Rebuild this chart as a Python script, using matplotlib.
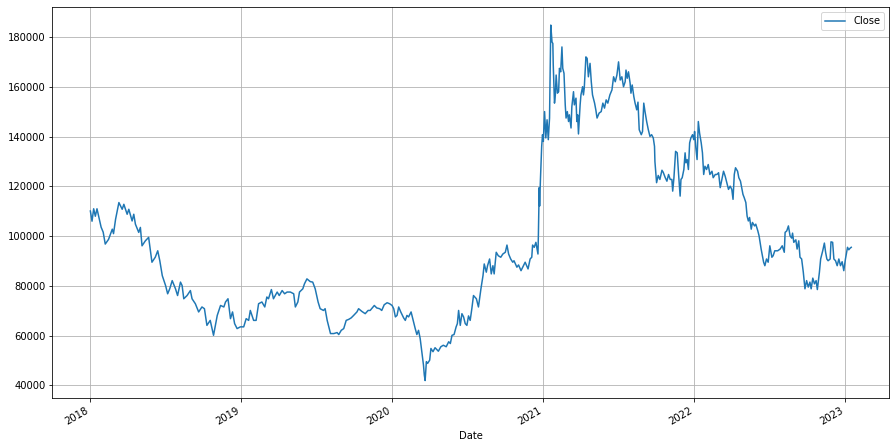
import matplotlib
matplotlib.use("Agg")
import matplotlib.pyplot as plt
import matplotlib.dates as mdates
import matplotlib.ticker as mticker
import pandas as pd

# Dates and closing prices
dates = [
    "2018-01-02", "2018-01-06", "2018-01-10", "2018-01-14", "2018-01-18", "2018-01-22",
    "2018-01-28", "2018-02-02", "2018-02-07", "2018-02-15", "2018-02-24", "2018-02-27",
    "2018-03-04", "2018-03-12", "2018-03-20", "2018-03-24", "2018-04-01", "2018-04-05",
    "2018-04-13", "2018-04-17", "2018-04-21", "2018-04-29", "2018-05-03", "2018-05-07",
    "2018-05-15", "2018-05-23", "2018-05-31", "2018-06-08", "2018-06-14", "2018-06-19",
    "2018-06-25", "2018-07-03", "2018-07-08", "2018-07-13", "2018-07-19", "2018-07-27",
    "2018-08-01", "2018-08-08", "2018-08-12", "2018-08-16", "2018-08-24", "2018-09-01",
    "2018-09-05", "2018-09-13", "2018-09-21", "2018-09-29", "2018-10-05", "2018-10-11",
    "2018-10-19", "2018-10-27", "2018-11-05", "2018-11-13", "2018-11-21", "2018-11-25",
    "2018-12-01", "2018-12-07", "2018-12-12", "2018-12-17", "2018-12-23", "2018-12-31",
    "2019-01-08", "2019-01-14", "2019-01-20", "2019-01-24", "2019-02-01", "2019-02-07",
    "2019-02-13", "2019-02-21", "2019-02-28", "2019-03-05", "2019-03-09", "2019-03-16",
    "2019-03-21", "2019-03-30", "2019-04-04", "2019-04-11", "2019-04-17", "2019-04-23",
    "2019-05-01", "2019-05-09", "2019-05-13", "2019-05-19", "2019-05-23", "2019-05-31",
    "2019-06-04", "2019-06-10", "2019-06-18", "2019-06-24", "2019-06-30", "2019-07-07",
    "2019-07-12", "2019-07-20", "2019-07-24", "2019-07-29", "2019-08-06", "2019-08-14",
    "2019-08-22", "2019-08-26", "2019-09-01", "2019-09-07", "2019-09-13", "2019-09-19",
    "2019-09-25", "2019-10-01", "2019-10-09", "2019-10-13", "2019-10-21", "2019-10-29",
    "2019-11-05", "2019-11-10", "2019-11-17", "2019-11-20", "2019-11-26", "2019-12-03",
    "2019-12-08", "2019-12-14", "2019-12-21", "2019-12-27",
    "2020-01-02", "2020-01-06", "2020-01-10", "2020-01-14", "2020-01-18", "2020-01-23",
    "2020-01-30", "2020-02-03", "2020-02-07", "2020-02-11", "2020-02-17", "2020-02-21",
    "2020-02-27", "2020-03-02", "2020-03-06", "2020-03-10", "2020-03-14", "2020-03-18",
    "2020-03-20", "2020-03-22", "2020-03-25", "2020-03-28", "2020-04-02", "2020-04-05",
    "2020-04-10", "2020-04-15", "2020-04-23", "2020-04-29", "2020-05-05", "2020-05-12",
    "2020-05-18", "2020-05-22", "2020-05-26", "2020-05-31", "2020-06-05", "2020-06-08",
    "2020-06-11", "2020-06-15", "2020-06-19", "2020-06-23", "2020-06-27", "2020-07-01",
    "2020-07-05", "2020-07-09", "2020-07-13", "2020-07-17", "2020-07-24", "2020-07-29",
    "2020-08-04", "2020-08-09", "2020-08-12", "2020-08-17", "2020-08-20", "2020-08-25",
    "2020-08-29", "2020-09-02", "2020-09-05", "2020-09-10", "2020-09-15", "2020-09-21",
    "2020-09-26", "2020-10-02", "2020-10-06", "2020-10-10", "2020-10-15", "2020-10-20",
    "2020-10-23", "2020-10-30", "2020-11-03", "2020-11-09", "2020-11-15", "2020-11-19",
    "2020-11-26", "2020-12-01", "2020-12-05", "2020-12-07", "2020-12-11", "2020-12-15",
    "2020-12-18", "2020-12-20", "2020-12-21", "2020-12-23", "2020-12-24", "2020-12-26",
    "2020-12-28", "2020-12-29", "2020-12-31",
    "2021-01-02", "2021-01-05", "2021-01-08", "2021-01-11", "2021-01-14", "2021-01-17",
    "2021-01-20", "2021-01-23", "2021-01-25", "2021-01-26", "2021-01-29", "2021-01-31",
    "2021-02-02", "2021-02-05", "2021-02-08", "2021-02-10", "2021-02-13", "2021-02-16",
    "2021-02-18", "2021-02-21", "2021-02-24", "2021-02-26", "2021-03-01", "2021-03-04",
    "2021-03-06", "2021-03-10", "2021-03-12", "2021-03-16", "2021-03-18", "2021-03-22",
    "2021-03-24", "2021-03-26", "2021-03-28", "2021-04-01", "2021-04-03", "2021-04-07",
    "2021-04-09", "2021-04-11", "2021-04-15", "2021-04-18", "2021-04-21", "2021-04-25",
    "2021-04-28", "2021-05-01", "2021-05-06", "2021-05-09", "2021-05-12", "2021-05-17",
    "2021-05-22", "2021-05-26", "2021-05-30", "2021-06-03", "2021-06-07", "2021-06-12",
    "2021-06-17", "2021-06-21", "2021-06-25", "2021-06-29", "2021-07-03", "2021-07-07",
    "2021-07-11", "2021-07-15", "2021-07-19", "2021-07-21", "2021-07-24", "2021-07-27",
    "2021-07-31", "2021-08-02", "2021-08-05", "2021-08-09", "2021-08-12", "2021-08-16",
    "2021-08-19", "2021-08-22", "2021-08-27", "2021-08-30", "2021-09-02", "2021-09-05",
    "2021-09-09", "2021-09-13", "2021-09-17", "2021-09-21", "2021-09-25", "2021-09-28",
    "2021-09-29", "2021-10-03", "2021-10-07", "2021-10-11", "2021-10-16", "2021-10-19",
    "2021-10-24", "2021-10-28", "2021-11-01", "2021-11-05", "2021-11-09", "2021-11-11",
    "2021-11-14", "2021-11-18", "2021-11-22", "2021-11-25", "2021-11-29", "2021-12-01",
    "2021-12-04", "2021-12-08", "2021-12-11", "2021-12-13", "2021-12-16", "2021-12-19",
    "2021-12-22", "2021-12-25", "2021-12-29",
    "2022-01-01", "2022-01-03", "2022-01-06", "2022-01-09", "2022-01-12", "2022-01-15",
    "2022-01-19", "2022-01-22", "2022-01-25", "2022-01-28", "2022-02-01", "2022-02-05",
    "2022-02-09", "2022-02-14", "2022-02-17", "2022-02-22", "2022-02-26", "2022-03-02",
    "2022-03-06", "2022-03-10", "2022-03-14", "2022-03-18", "2022-03-22", "2022-03-26",
    "2022-03-30", "2022-04-03", "2022-04-06", "2022-04-09", "2022-04-12", "2022-04-17",
    "2022-04-20", "2022-04-24", "2022-04-27", "2022-04-30", "2022-05-03", "2022-05-07",
    "2022-05-10", "2022-05-13", "2022-05-16", "2022-05-20", "2022-05-23", "2022-05-28",
    "2022-05-31", "2022-06-05", "2022-06-08", "2022-06-13", "2022-06-16", "2022-06-19",
    "2022-06-22", "2022-06-26", "2022-06-30", "2022-07-04", "2022-07-09", "2022-07-12",
    "2022-07-16", "2022-07-23", "2022-07-29", "2022-08-03", "2022-08-08", "2022-08-10",
    "2022-08-14", "2022-08-18", "2022-08-22", "2022-08-26", "2022-08-28", "2022-08-31",
    "2022-09-05", "2022-09-08", "2022-09-12", "2022-09-15", "2022-09-19", "2022-09-23",
    "2022-09-27", "2022-10-01", "2022-10-05", "2022-10-09", "2022-10-12", "2022-10-16",
    "2022-10-20", "2022-10-24", "2022-10-27", "2022-11-01", "2022-11-04", "2022-11-09",
    "2022-11-13", "2022-11-16", "2022-11-19", "2022-11-22", "2022-11-27", "2022-11-29",
    "2022-12-03", "2022-12-06", "2022-12-10", "2022-12-14", "2022-12-18", "2022-12-22",
    "2022-12-26", "2022-12-30",
    "2023-01-03", "2023-01-06", "2023-01-08", "2023-01-11", "2023-01-14", "2023-01-17",
]

close = [
    110100, 106000, 111000, 108000, 111000, 108000,
    103600, 101600, 96800, 98700, 102800, 101000,
    106800, 113500, 110800, 112800, 108800, 110800,
    106100, 108800, 104800, 101500, 103500, 96100,
    98100, 99500, 89500, 91500, 94100, 90100,
    84100, 80100, 76800, 78800, 82100, 78800,
    76100, 81500, 80100, 74800, 76100, 78100,
    74800, 72800, 69500, 71500, 70800, 64100,
    66100, 60100, 68100, 72100, 71500, 73500,
    74800, 66800, 69500, 64800, 62800, 63500,
    63500, 66800, 66100, 70100, 66100, 66100,
    72800, 73500, 71500, 75500, 74800, 78500,
    74800, 77500, 76100, 78100, 76800, 77500,
    77500, 76800, 71500, 73500, 77500, 78800,
    80800, 82800, 81700, 81500, 78800, 73500,
    70800, 70100, 70800, 66100, 60800, 60800,
    61200, 60400, 62100, 62800, 66100, 66500,
    67100, 68100, 69500, 70800, 69700, 68800,
    70100, 70100, 71500, 72100, 71100, 70800,
    70100, 72400, 73200, 72800,
    72100, 70800, 67500, 68100, 71500, 69500,
    67100, 66100, 68100, 67500, 69500, 66800,
    62800, 60400, 62100, 58800, 53500, 48100,
    44100, 41900, 49500, 48800, 50100, 54800,
    53500, 55100, 53700, 55500, 56100, 55500,
    57500, 56800, 60100, 60400, 63500, 64800,
    70100, 64100, 68800, 67500, 64800, 64100,
    67900, 66100, 70800, 76100, 74800, 71500,
    78800, 84100, 88800, 85500, 88100, 90800,
    84800, 88100, 84800, 93500, 92100, 91500,
    92800, 93500, 96400, 92800, 90800, 89500,
    90100, 87500, 88400, 86100, 88100, 89500,
    86800, 90800, 91500, 96400, 95500, 97500,
    94800, 92800, 100100, 119500, 112100, 122800,
    132000, 136100, 140800,
    138100, 150100, 139500, 146800, 138800, 147500,
    184900, 178100, 177500, 168800, 153500, 156800,
    164800, 157500, 158100, 167500, 166100, 176100,
    167500, 165500, 152800, 147500, 150100, 146100,
    148800, 143500, 152100, 158100, 152800, 155500,
    146100, 148800, 141100, 152800, 156800, 160100,
    156800, 159500, 172100, 171500, 164100, 169500,
    162100, 156800, 153500, 150800, 147500, 149500,
    150100, 153500, 151500, 154800, 153500, 156800,
    158800, 164100, 162100, 164800, 170100, 162800,
    164100, 160100, 162100, 166800, 163500, 166100,
    161500, 157500, 160800, 156100, 153500, 150800,
    153900, 142800, 140800, 142100, 153500, 150100,
    146100, 142800, 140100, 140800, 139500, 136100,
    130000, 121500, 124400, 122800, 126500, 125700,
    123500, 122100, 124800, 122800, 122800, 118100,
    123500, 134100, 133500, 125500, 116100, 122800,
    123500, 126800, 133500, 129500, 130800, 126800,
    137500, 139500, 140800,
    138800, 142100, 135500, 130800, 146100, 141500,
    137500, 133500, 124800, 128100, 126800, 128800,
    124800, 126100, 123500, 124800, 124800, 125500,
    119500, 122800, 126100, 124100, 121500, 118800,
    120100, 118800, 114800, 124800, 127500, 126100,
    123500, 122100, 119500, 116800, 115500, 113500,
    108100, 106100, 107500, 102800, 105500, 104100,
    104800, 102100, 100100, 94800, 92100, 89500,
    88100, 90800, 89500, 96100, 91500, 92100,
    94100, 94100, 94800, 96100, 93500, 101500,
    102100, 104100, 100100, 99200, 101200, 97500,
    98500, 94800, 98100, 91500, 90800, 85500,
    78800, 82100, 79500, 81500, 78800, 83100,
    80800, 82100, 78500, 85500, 90800, 94100,
    97200, 93500, 90800, 90100, 90800, 97700,
    97500, 90800, 90100, 88100, 90800, 88100,
    89700, 86100,
    90800, 93700, 95500, 94500, 95100, 95500,
]

series = pd.Series(close, index=pd.to_datetime(dates), name="Close")

fig, ax = plt.subplots(figsize=(896 / 72, 448 / 72), dpi=72)
fig.subplots_adjust(left=0.0584, right=0.9925, top=0.9837, bottom=0.1109)

ax.plot(series.index, series.values, color="#1f77b4", linewidth=1.5, label="Close")
ax.grid(True)
ax.yaxis.set_major_locator(mticker.MultipleLocator(20000))
ax.xaxis.set_major_locator(mdates.YearLocator())
ax.xaxis.set_major_formatter(mdates.DateFormatter("%Y"))
plt.setp(ax.get_xticklabels(), rotation=30, ha="right")
ax.set_xlabel("Date")
ax.legend(loc="upper right")

fig.savefig("out.png", dpi=72)
